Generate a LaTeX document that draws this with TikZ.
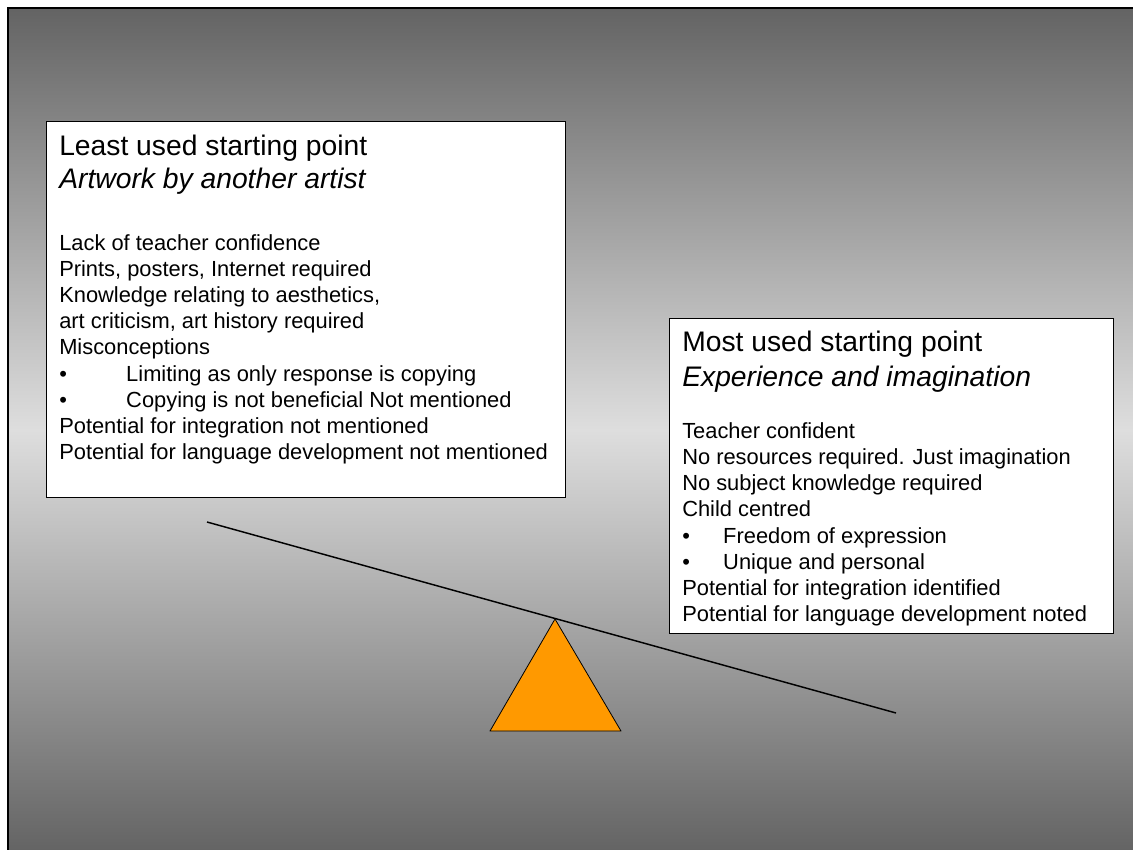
\documentclass[tikz,border=0pt]{standalone}
\usepackage{fontspec}
\setmainfont{Liberation Sans}
\usetikzlibrary{positioning}

\definecolor{fulcrumorange}{HTML}{FF9900}
\newcommand{\tabbullet}[1]{\makebox[#1][l]{\textbullet}}

\begin{document}
\begin{tikzpicture}[
        x=0.75pt, y=-0.75pt,
        panel/.style={draw, fill=white, line width=0.8pt, anchor=north west, inner sep=0pt},
        heading/.style={anchor=base west, inner sep=0pt, font=\fontsize{21.2}{25}\selectfont},
        item/.style={anchor=base west, inner sep=0pt, font=\fontsize{16.4}{19.7}\selectfont},
        beam/.style={line width=1.1pt}
    ]

    % ---- slide background ----
    \useasboundingbox (0,0) rectangle (1133,850);
    \clip (0,0) rectangle (1133,850);
    \fill[white] (0,0) rectangle (1133,850);
    \shade[top color=black!61, bottom color=black!61, middle color=black!13] (8,8) rectangle (1140,852);
    \draw[line width=1.7pt] (1140,8) -- (8,8) -- (8,860);

    % ---- least used (left) ----
    \node[panel, minimum width=389.25pt, minimum height=282pt] (least) at (46,121) {};
    \node[heading] (leasttitle) at (59,155) {Least used starting point};
    \node[heading] (leastsub) at (59,188) {\itshape Artwork by another artist};
    \foreach \txt [count=\i from 0] in {
        Lack of teacher confidence,
        {Prints, posters, Internet required},
        {Knowledge relating to aesthetics,},
        {art criticism, art history required},
        Misconceptions,
        \tabbullet{50.25pt}Limiting as only response is copying,
        \tabbullet{50.25pt}Copying is not beneficial Not mentioned,
        Potential for integration not mentioned,
        Potential for language development not mentioned}
        \node[item] (least\i) at (59,250+26.2*\i) {\txt};

    % ---- most used (right) ----
    \node[panel, minimum width=333pt, minimum height=236.25pt] (most) at (669,318) {};
    \node[heading] (mosttitle) at (682,351.7) {Most used starting point};
    \node[heading] (mostsub) at (682,386) {\itshape Experience and imagination};
    \foreach \txt [count=\i from 0] in {
        Teacher confident,
        No resources required. Just imagination,
        No subject knowledge required,
        Child centred,
        \tabbullet{30.75pt}Freedom of expression,
        \tabbullet{30.75pt}Unique and personal,
        Potential for integration identified,
        Potential for language development noted}
        \node[item] (most\i) at (682,438.3+26.2*\i) {\txt};

    % ---- balance ----
    \coordinate (beamleft) at (207,522);
    \coordinate (beamright) at (896,713);
    \coordinate (apex) at (555,619);
    \draw[fill=fulcrumorange, line width=0.6pt, line join=round] (apex) -- (621,731) -- (490,731) -- cycle;
    \draw[beam] (beamleft) -- (beamright);

\end{tikzpicture}
\end{document}
